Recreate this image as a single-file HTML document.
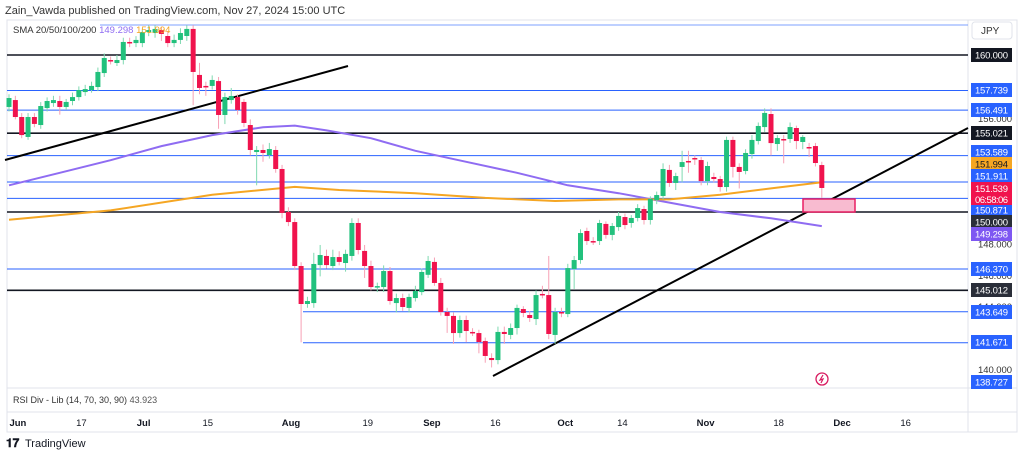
<!DOCTYPE html>
<html><head><meta charset="utf-8"><style>
body{margin:0;background:#fff;font-family:"Liberation Sans",sans-serif;}
svg{display:block}
</style></head><body>
<svg id="chart" width="1024" height="457" viewBox="0 0 1024 457" font-family="Liberation Sans, sans-serif">
<text x="5" y="14" font-size="11" fill="#333">Zain_Vawda published on TradingView.com, Nov 27, 2024 15:00 UTC</text>
<rect x="7" y="20" width="1010" height="412" fill="none" stroke="#e0e3eb"/>
<line x1="968" y1="20" x2="968" y2="432" stroke="#e0e3eb"/>
<line x1="7" y1="388" x2="1017" y2="388" stroke="#e0e3eb"/>
<line x1="7" y1="412" x2="1017" y2="412" stroke="#e0e3eb"/>
<g id="grid"></g>
<g id="trend"></g>
<g id="sma"></g>
<g id="candles"></g>
<g id="axis"></g>
<text x="13" y="33" font-size="9.5" fill="#333">SMA 20/50/100/200 <tspan fill="#8f6cf2">149.298</tspan> <tspan fill="#f5a623">151.994</tspan></text>
<rect x="972" y="22" width="40" height="17" rx="3" fill="#fff" stroke="#e0e3eb"/>
<text x="981" y="34" font-size="10" fill="#333">JPY</text>
<text x="13" y="403" font-size="9" fill="#333">RSI Div - Lib (14, 70, 30, 90) <tspan fill="#555">43.923</tspan></text>
<g transform="translate(822,379)"><circle r="6" fill="none" stroke="#d81b60" stroke-width="1.3"/><path d="M1,-4 L-2,1 L1,0 L-1,4" stroke="#d81b60" fill="none" stroke-width="1.2"/></g>
<text x="6" y="447" font-size="12" font-weight="bold" fill="#131722">𝟏𝟕</text>
<text x="25" y="447" font-size="11" fill="#131722">TradingView</text>
</svg>
<script>
const opens=[156.69,157.13,156.05,154.78,156.05,155.54,156.62,156.94,157.07,156.69,157.07,157.32,157.64,157.77,157.96,158.85,159.68,159.49,159.68,160.83,160.76,160.76,161.46,161.40,161.59,161.21,160.76,160.96,161.21,161.66,158.73,158.03,158.03,158.34,156.18,157.13,157.32,157.01,155.54,153.82,153.95,153.63,153.95,152.74,150.00,149.36,146.56,144.14,144.20,146.62,147.20,146.56,147.13,146.75,147.20,149.30,147.52,146.56,145.22,145.22,146.24,144.20,144.52,143.89,144.52,144.90,146.00,146.82,145.48,143.63,143.38,142.29,143.12,142.36,142.29,141.78,140.70,140.57,142.36,142.17,142.61,143.82,143.44,143.18,144.78,144.71,142.17,143.63,143.50,146.37,146.94,148.79,148.15,148.15,149.24,148.54,149.04,149.68,149.30,149.62,150.19,149.49,150.76,151.02,152.68,151.85,152.87,153.25,153.44,153.31,151.97,152.23,152.10,151.59,154.59,152.87,152.61,153.69,154.52,155.41,156.24,154.33,154.65,154.65,155.35,154.46,154.14,154.20,152.99];
const closes=[157.26,156.05,154.90,156.05,155.61,156.75,157.07,157.13,156.69,157.01,157.32,157.77,157.83,158.03,158.92,159.81,159.62,159.68,160.83,160.80,160.96,161.46,161.59,161.66,161.34,160.76,160.96,161.40,161.66,158.92,157.90,158.00,158.41,156.18,157.32,157.39,156.50,155.67,153.95,153.95,153.76,154.01,152.74,149.94,149.36,146.56,144.14,144.33,146.69,147.26,146.62,147.13,146.82,147.33,149.30,147.58,146.56,145.22,145.28,146.24,144.33,144.52,143.95,144.59,144.97,146.18,146.88,145.48,143.63,143.38,142.29,143.12,142.42,142.33,141.72,140.83,140.57,142.36,142.23,142.61,143.89,143.57,143.25,144.71,144.75,142.23,143.63,143.57,146.43,146.94,148.66,148.15,148.12,149.30,148.54,149.11,149.75,149.17,149.62,150.25,149.49,150.83,151.08,152.74,151.85,152.29,153.18,153.22,153.41,151.97,152.93,152.10,151.59,154.59,152.87,152.55,153.76,154.59,155.48,156.31,154.39,154.71,154.62,155.41,154.52,154.78,154.11,153.12,151.53];
const highs=[157.5,157.4,156.3,156.3,156.3,157.0,157.3,157.4,157.4,157.2,157.6,158.0,158.1,158.3,159.2,160.1,159.9,160.0,161.1,161.1,161.2,161.7,161.9,161.9,161.8,161.5,161.3,161.7,161.9,161.9,159.5,158.3,158.7,158.6,157.6,157.9,157.5,157.2,155.9,154.2,154.3,154.4,154.2,153.0,150.3,149.6,146.8,144.6,147.4,147.9,147.6,147.6,147.5,147.6,149.6,149.6,147.9,146.9,145.5,146.6,146.5,144.8,144.8,144.8,145.3,146.4,147.2,147.1,145.8,143.9,143.6,143.4,143.4,142.6,142.5,142.0,141.0,142.7,142.7,142.9,144.1,144.0,143.7,145.0,145.3,147.2,143.9,143.9,146.7,147.2,148.9,149.0,148.4,149.5,149.4,149.3,150.0,149.9,149.8,150.5,150.4,151.0,151.3,153.1,153.0,152.5,153.9,153.9,153.6,153.5,153.2,152.5,152.3,154.8,154.8,153.1,154.0,154.9,155.7,156.6,156.6,154.9,154.9,155.7,155.5,154.9,154.4,154.4,153.2];
const lows=[156.4,155.9,154.7,154.6,155.4,155.3,156.4,156.7,156.2,156.5,156.8,157.1,157.4,157.6,157.7,158.6,159.4,159.3,159.4,160.5,160.5,160.5,161.2,161.1,160.9,160.5,160.5,160.7,160.9,156.8,157.5,157.4,157.8,155.3,155.6,156.9,156.2,155.4,153.6,151.7,153.2,153.4,152.5,149.6,149.1,146.3,141.7,143.9,143.9,145.9,146.4,146.3,146.6,146.2,146.9,147.3,145.8,145.0,144.9,144.9,144.1,143.6,143.7,143.6,144.3,144.7,145.8,145.3,143.4,142.3,141.6,142.0,141.7,142.1,141.0,140.4,140.1,140.3,141.6,141.9,142.2,143.3,143.0,142.8,144.5,141.9,141.6,143.3,143.3,145.1,146.7,147.9,147.9,147.9,148.3,148.2,148.8,148.9,149.0,149.4,149.2,149.2,150.5,150.8,151.6,151.4,151.9,152.5,153.0,151.7,151.7,151.9,151.3,151.3,152.2,151.5,152.4,153.4,154.3,155.1,153.6,153.9,153.1,154.4,154.0,154.0,153.5,152.9,150.9];
const smaPurpleX=[0,8,16,24,32,40,45,50,57,64,72,80,88,96,104,112,120,128];
const smaPurple=[151.7,152.5,153.3,154.2,154.9,155.4,155.5,155.2,154.7,153.9,153.2,152.5,151.7,151.2,150.6,150.0,149.6,149.1];
const smaOrangeX=[0,16,32,45,52,64,75,86,96,104,112,120,128];
const smaOrange=[149.5,150.1,151.1,151.6,151.4,151.2,150.9,150.7,150.8,150.8,151.1,151.5,151.9];
const blueLevels=[157.739,156.491,153.589,151.911,150.871,146.370];
const blueShortLevels=[143.649,141.671];
const blackLevels=[160.000,155.021,150.000,145.012];
const tickLabels=[156,148,146,144,142,140];
const dateLabels=["Jun","17","Jul","15","Aug","19","Sep","16","Oct","14","Nov","18","Dec","16"];
const dateIdx=[1.4,11.4,21.2,31.3,44.4,56.5,66.6,76.6,87.6,96.6,109.7,121.2,131.2,141.2];
const badgeValues=[160.000,157.739,156.491,155.021,153.589,151.994,151.911,150.871,150.000,149.298,146.370,145.012,143.649,141.671,138.727];
const badgeColors=['#131722','#2962ff','#2962ff','#131722','#2962ff','#f5a623','#2962ff','#2962ff','#2a2e39','#7e57f2','#2962ff','#2a2e39','#2962ff','#2962ff','#2962ff'];
const badgeLayoutY=[55,90,110,133,152,164,176,210,222,234,269,290,312,342,382];

const NS="http://www.w3.org/2000/svg";
const py=p=>55+(160-p)*15.7;
const px=i=>9+i*6.35;
function mk(tag,attrs,parent){const e=document.createElementNS(NS,tag);for(const k in attrs)e.setAttribute(k,attrs[k]);document.getElementById(parent).appendChild(e);return e;}

mk('line',{x1:100,y1:25,x2:968,y2:25,stroke:'#2962ff','stroke-width':1,opacity:0.6},'grid');
blueLevels.forEach(v=>{const l=mk('line',{x1:7,y1:py(v),x2:968,y2:py(v),stroke:'#2962ff','stroke-width':1},'grid');

});
blueShortLevels.forEach(v=>{const l=mk('line',{x1:303,y1:py(v),x2:968,y2:py(v),stroke:'#2962ff','stroke-width':1},'grid');

});
blackLevels.forEach(v=>{const l=mk('line',{x1:7,y1:py(v),x2:968,y2:py(v),stroke:'#131722','stroke-width':1.6},'grid');

});
[[5,160,348,66],[493,376,968,128]].forEach(t=>{const l=mk('line',{x1:t[0],y1:t[1],x2:t[2],y2:t[3],stroke:'#000','stroke-width':2},'trend');

});
const zr=mk('rect',{x:803,y:199,width:52,height:13,fill:'#f8bbd0',stroke:'#e91e63','stroke-width':1.5},'trend');



function path(xs,vs,color,name){let d=xs.map((x,k)=>(k?'L':'M')+px(x).toFixed(1)+','+py(vs[k]).toFixed(1)).join(' ');
const p=mk('path',{d:d,fill:'none',stroke:color,'stroke-width':2},'sma');

}
path(smaPurpleX,smaPurple,'#8f6cf2','sma-100-line');
path(smaOrangeX,smaOrange,'#f5a623','sma-200-line');

opens.forEach((o,i)=>{const c=closes[i];const up=c>=o;const bcol=up?'#22c17d':'#f0134d';
const x=px(i);
const w=mk('line',{x1:x,y1:py(highs[i]),x2:x,y2:py(lows[i]),stroke:up?'#7fd9b0':'#f7a0b5','stroke-width':1},'candles');


const top=py(Math.max(o,c)),h=Math.max(1.5,Math.abs(py(o)-py(c)));
const b=mk('rect',{x:x-2.5,y:top,width:5,height:h,fill:bcol},'candles');

});

tickLabels.forEach(v=>{const t=mk('text',{x:978,y:py(v)+4,'font-size':9.5,fill:'#333',textLength:34},'axis');t.textContent=v.toFixed(3);

});
badgeValues.forEach((v,k)=>{const y=badgeLayoutY[k];
const r=mk('rect',{x:971,y:y-7,width:41,height:14,fill:badgeColors[k]},'axis');


const t=mk('text',{x:975,y:y+3.5,'font-size':9.5,fill:badgeColors[k]==='#f5a623'?'#131722':'#fff',textLength:33},'axis');t.textContent=v.toFixed(3);

});
const pr=mk('rect',{x:971,y:182,width:41,height:23,fill:'#f0134d'},'axis');


const pt=mk('text',{x:975,y:192,'font-size':9.5,fill:'#fff',textLength:33},'axis');pt.textContent='151.539';


const ct=mk('text',{x:975,y:203,'font-size':9.5,fill:'#fff',textLength:33},'axis');ct.textContent='06:58:06';


dateLabels.forEach((s,k)=>{const t=mk('text',{x:px(dateIdx[k]),y:426,'font-size':9.5,fill:'#131722','text-anchor':'middle','font-weight':isNaN(s)?'bold':'normal'},'axis');t.textContent=s;

});
</script>
</body></html>
